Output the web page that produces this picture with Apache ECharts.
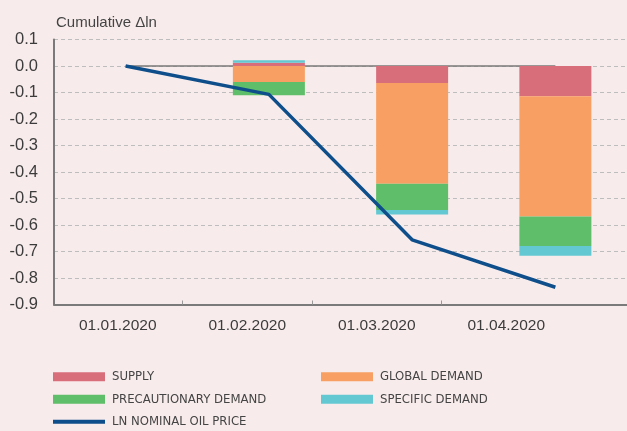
<!DOCTYPE html>
<html>
<head>
<meta charset="utf-8">
<script src="https://cdn.jsdelivr.net/npm/echarts@6/dist/echarts.min.js"></script>
<style>
html,body{margin:0;padding:0;background:#f8ebeb;}
#chart{width:627px;height:431px;}
</style>
</head>
<body>
<div id="chart"></div>
<script>
var categories = ['01.01.2020', '01.02.2020', '01.03.2020', '01.04.2020'];
var supply = [null, 0.012, -0.064, -0.114];
var globalDemand = [null, -0.060, -0.380, -0.454];
var precautionary = [null, -0.050, -0.099, -0.111];
var specific = [null, 0.010, -0.017, -0.037];
var oilPrice = [0, -0.107, -0.656, -0.835];
var zeroLine = [0, 0, 0, 0];
var yTicks = { min: -0.9, max: 0.1, step: 0.1 };

var chart = echarts.init(document.getElementById('chart'), null, { renderer: 'canvas' });
var axisColor = '#7a7a7a';
var textColor = '#3c3c3c';
var baseFont = "'Liberation Sans', Arial, sans-serif";
var narrowFont = "'Liberation Sans Narrow', 'DejaVu Sans Condensed', sans-serif";

function bar(name, data, color) {
  return {
    name: name, type: 'bar', stack: 'total', data: data,
    xAxisIndex: 0, yAxisIndex: 0, barWidth: 72, z: 2,
    itemStyle: { color: color }
  };
}

var tickPos = [];
var labelPos = [];
for (var i = 0; i < categories.length; i++) {
  if (i > 0) tickPos.push(i);
  labelPos.push(i + 0.5);
}

var legendText = { fontFamily: narrowFont, fontSize: 13, color: '#444', padding: [0, 0, 0, 2], lineHeight: 14 };
var lineIcon = 'path://M0,0H0.01V0.01H0Z M0,2.5H52V6.5H0Z M51.99,8.99H52V9H51.99Z';

var option = {
  backgroundColor: '#f8ebeb',
  animation: false,
  title: {
    text: 'Cumulative \u0394ln', left: 51, top: 10,
    textStyle: { fontFamily: baseFont, fontSize: 15, fontWeight: 'normal', color: '#444' }
  },
  grid: [
    { left: 54, top: 39.5, width: 576, height: 265, containLabel: false },
    { left: 53, top: 39.5, width: 518, height: 265, containLabel: false }
  ],
  xAxis: [
    {
      type: 'category', gridIndex: 0, data: categories,
      axisLine: { show: true, onZero: false, lineStyle: { color: axisColor, width: 2 } },
      axisTick: { show: false }, axisLabel: { show: false }, splitLine: { show: false }
    },
    {
      type: 'value', gridIndex: 1, min: 0, max: categories.length, position: 'bottom',
      axisLine: { show: false, onZero: false },
      axisTick: { show: true, inside: true, length: 4, customValues: tickPos, lineStyle: { color: '#999', width: 1 } },
      axisLabel: {
        margin: 13, fontFamily: baseFont, fontSize: 15.5, color: textColor,
        customValues: labelPos,
        formatter: function (v) { return categories[Math.floor(v)] || ''; }
      },
      splitLine: { show: false }
    }
  ],
  yAxis: [
    {
      type: 'value', gridIndex: 0, min: yTicks.min, max: yTicks.max, interval: yTicks.step,
      axisLine: { show: true, lineStyle: { color: axisColor, width: 2 } },
      axisTick: { show: false },
      axisLabel: {
        margin: 16, fontFamily: baseFont, fontSize: 16.5, color: textColor,
        formatter: function (v) { return Math.abs(v) < 1e-9 ? '0.0' : v.toFixed(1); }
      },
      splitLine: { show: true, lineStyle: { color: '#bdbdbd', type: [4, 3], width: 1 } }
    },
    {
      type: 'value', gridIndex: 1, min: yTicks.min, max: yTicks.max, interval: yTicks.step,
      show: false, splitLine: { show: false }
    }
  ],
  legend: [
    {
      left: 53, top: 369.7, orient: 'vertical', padding: 0, itemWidth: 52, itemHeight: 9, itemGap: 8.5,
      data: [
        { name: 'SUPPLY', icon: 'rect' },
        { name: 'PRECAUTIONARY DEMAND', icon: 'rect' },
        { name: 'LN NOMINAL OIL PRICE', icon: lineIcon, itemStyle: { color: '#0e4e8a', borderWidth: 0 } }
      ],
      textStyle: legendText
    },
    {
      left: 321, top: 369.7, orient: 'vertical', padding: 0, itemWidth: 52, itemHeight: 9, itemGap: 8.5,
      data: [
        { name: 'GLOBAL DEMAND', icon: 'rect' },
        { name: 'SPECIFIC DEMAND', icon: 'rect' }
      ],
      textStyle: legendText
    }
  ],
  series: [
    {
      name: 'zero', type: 'line', data: zeroLine, xAxisIndex: 0, yAxisIndex: 0,
      symbol: 'none', silent: true, z: 1,
      lineStyle: { color: '#7a7a7a', width: 1.5 }
    },
    bar('SUPPLY', supply, '#d96e7b'),
    bar('GLOBAL DEMAND', globalDemand, '#f8a063'),
    bar('PRECAUTIONARY DEMAND', precautionary, '#5fbe69'),
    bar('SPECIFIC DEMAND', specific, '#63c8d2'),
    {
      name: 'LN NOMINAL OIL PRICE', type: 'line', data: oilPrice,
      xAxisIndex: 0, yAxisIndex: 0, symbol: 'none', z: 5,
      lineStyle: { color: '#0e4e8a', width: 3.5 },
      itemStyle: { color: '#0e4e8a' }
    }
  ]
};
chart.setOption(option);
</script>
</body>
</html>
